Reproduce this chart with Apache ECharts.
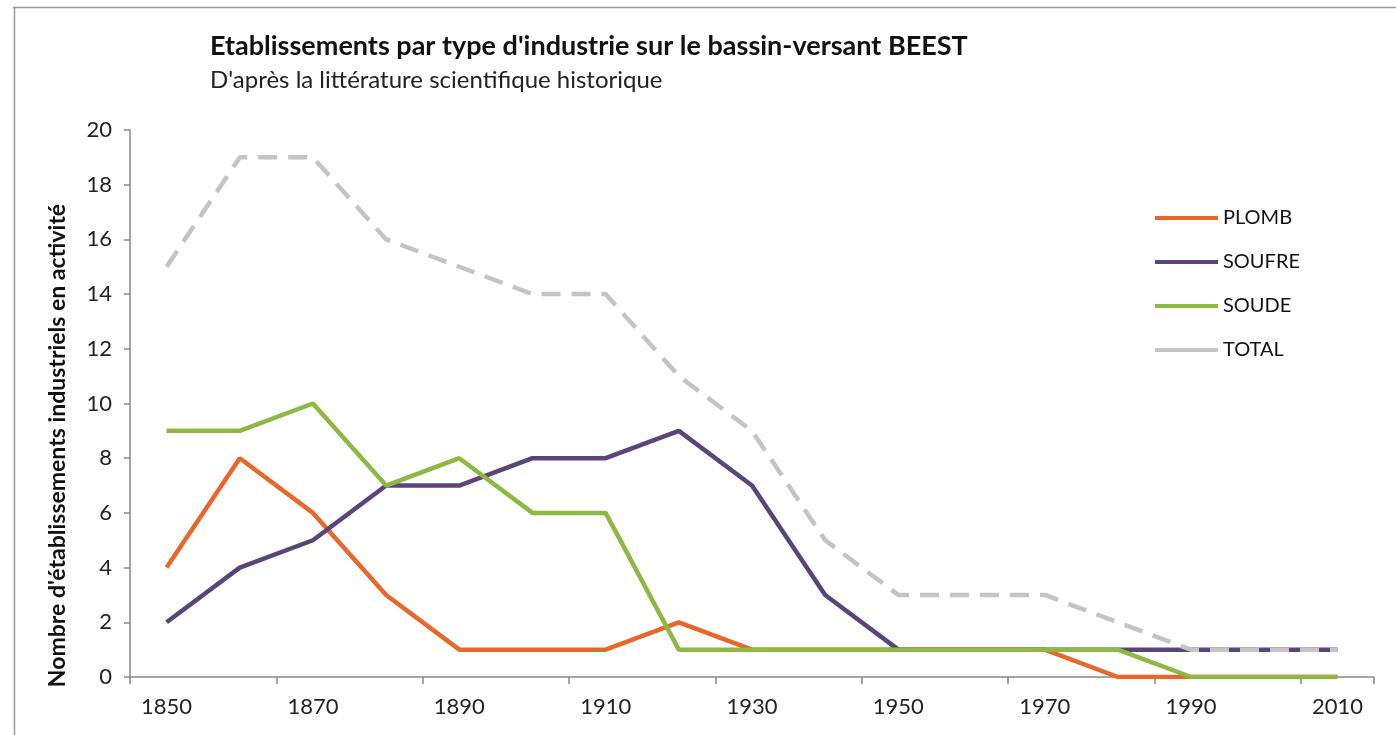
<!DOCTYPE html>
<html>
<head>
<meta charset="utf-8">
<script src="https://cdn.jsdelivr.net/npm/echarts@6/dist/echarts.min.js"></script>
<style>
  html, body { margin: 0; padding: 0; background: #fff; }
  #main { width: 1396px; height: 735px; }
</style>
</head>
<body>
<div id="main"></div>
<script>
const years = ["1850", "1860", "1870", "1880", "1890", "1900", "1910", "1920", "1930",
  "1940", "1950", "1960", "1970", "1980", "1990", "2000", "2010"];
const plomb = [4, 8, 6, 3, 1, 1, 1, 2, 1, 1, 1, 1, 1, 0, 0, 0, 0];
const soufre = [2, 4, 5, 7, 7, 8, 8, 9, 7, 3, 1, 1, 1, 1, 1, 1, 1];
const soude = [9, 9, 10, 7, 8, 6, 6, 1, 1, 1, 1, 1, 1, 1, 0, 0, 0];
const total = [15, 19, 19, 16, 15, 14, 14, 11, 9, 5, 3, 3, 3, 2, 1, 1, 1];

const font = "Lato, 'Open Sans', sans-serif";

const myChart = echarts.init(document.getElementById("main"));

function line(name, data, color, dashed) {
  return {
    name: name,
    type: "line",
    data: data,
    symbol: "none",
    itemStyle: { color: color },
    lineStyle: { color: color, width: 4.5, type: dashed ? [19, 11] : "solid" },
  };
}

myChart.setOption({
  backgroundColor: "#fff",
  animation: false,
  textStyle: { fontFamily: font },
  title: {
    text: "Etablissements par type d'industrie sur le bassin-versant BEEST",
    subtext: "D'après la littérature scientifique historique",
    left: 205,
    top: 28,
    itemGap: 8,
    textStyle: { fontFamily: font, fontSize: 27, fontWeight: "bold", color: "#111" },
    subtextStyle: { fontFamily: font, fontSize: 24, color: "#222" },
  },
  legend: {
    orient: "vertical",
    left: 1150,
    top: 203,
    icon: "rect",
    itemWidth: 63,
    itemHeight: 4,
    itemGap: 24,
    textStyle: { fontFamily: font, fontSize: 20, color: "#111" },
    data: ["PLOMB", "SOUFRE", "SOUDE", "TOTAL"],
  },
  grid: { left: 130, right: 22, top: 130, bottom: 58 },
  xAxis: {
    type: "category",
    boundaryGap: true,
    data: years,
    axisLine: { lineStyle: { color: "#888", width: 1.5 } },
    axisTick: { show: true, length: 7, lineStyle: { color: "#888", width: 1.5 } },
    axisLabel: { interval: 1, fontSize: 22, color: "#222", margin: 19 },
  },
  yAxis: {
    type: "value",
    min: 0,
    max: 20,
    interval: 2,
    name: "Nombre d'établissements industriels en activité",
    nameLocation: "middle",
    nameGap: 61,
    nameTextStyle: { fontFamily: font, fontSize: 23, fontWeight: "bold", color: "#111", padding: [0, 84, 0, 0] },
    axisLine: { show: true, lineStyle: { color: "#888", width: 1.5 } },
    axisTick: { show: true, length: 6, lineStyle: { color: "#888", width: 1.5 } },
    axisLabel: { fontSize: 22, color: "#222", margin: 18 },
    splitLine: { show: false },
  },
  graphic: [
    {
      type: "line",
      shape: { x1: 13, y1: 7.5, x2: 1396, y2: 7.5 },
      style: { stroke: "#999", lineWidth: 1.5 },
      silent: true,
    },
    {
      type: "line",
      shape: { x1: 14.5, y1: 7, x2: 14.5, y2: 735 },
      style: { stroke: "#999", lineWidth: 1.5 },
      silent: true,
    },
  ],
  series: [
    line("PLOMB", plomb, "#E8682C"),
    line("SOUFRE", soufre, "#5A4578"),
    line("SOUDE", soude, "#8DB843"),
    line("TOTAL", total, "#C4C4C4", true),
  ],
});
</script>
</body>
</html>
